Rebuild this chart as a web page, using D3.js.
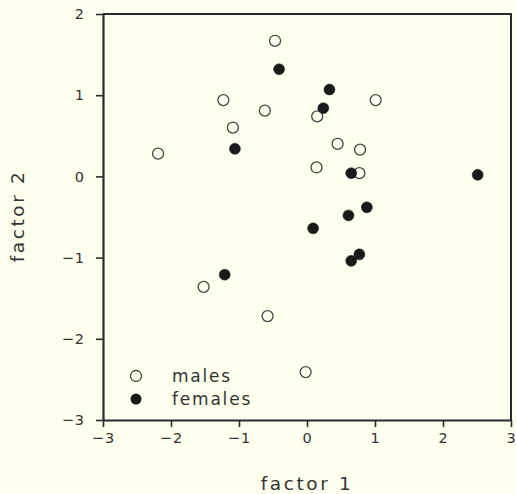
<!DOCTYPE html>
<html><head><meta charset="utf-8">
<script src="https://cdn.jsdelivr.net/npm/d3@7"></script>
<style>
html,body{margin:0;padding:0;background:#fffff0;}
svg{display:block;font-family:"DejaVu Sans",sans-serif;}
</style></head>
<body>
<script>
const xTicks = [-3, -2, -1, 0, 1, 2, 3];
const yTicks = [-3, -2, -1, 0, 1, 2];
const malesX = [-0.47, -1.23, -1.09, -2.19, -0.62, 0.15, 1.01, 0.45, 0.78, 0.14, 0.77, -1.52, -0.58, -0.02];
const malesY = [1.67, 0.94, 0.60, 0.28, 0.81, 0.74, 0.94, 0.40, 0.33, 0.11, 0.04, -1.36, -1.72, -2.41];
const femalesX = [-0.41, 0.33, 0.24, -1.06, 0.65, 2.51, 0.88, 0.61, 0.09, 0.77, 0.65, -1.21];
const femalesY = [1.32, 1.07, 0.84, 0.34, 0.04, 0.02, -0.38, -0.48, -0.64, -0.96, -1.04, -1.21];
const seriesNames = ["males", "females"];
const xTitle = "factor 1", yTitle = "factor 2";

const W = 516, H = 494;
const m = {left: 103, right: 5, top: 14, bottom: 74};
const svg = d3.select("body").append("svg").attr("width", W).attr("height", H);
svg.append("rect").attr("width", W).attr("height", H).attr("fill", "#fffff0");

const x = d3.scaleLinear().domain([-3, 3]).range([m.left, W - m.right]);
const y = d3.scaleLinear().domain([-3, 2]).range([H - m.bottom, m.top]);
const ink = "#2a2a2a";

// frame (top & right)
svg.append("path")
  .attr("d", `M${x(-3)},${y(2)}H${x(3)}V${y(-3)}`)
  .attr("fill", "none").attr("stroke", ink).attr("stroke-width", 2);

const gx = svg.append("g").attr("transform", `translate(0,${y(-3)})`)
  .call(d3.axisBottom(x).tickValues(xTicks).tickSize(7).tickPadding(6).tickSizeOuter(0)
    .tickFormat(d => d < 0 ? "\u2212" + Math.abs(d) : d));
const gy = svg.append("g").attr("transform", `translate(${x(-3)},0)`)
  .call(d3.axisLeft(y).tickValues(yTicks).tickSize(7).tickPadding(11).tickSizeOuter(0)
    .tickFormat(d => d < 0 ? "\u2212" + Math.abs(d) : d));
[gx, gy].forEach(g => {
  g.select(".domain").attr("stroke", ink).attr("stroke-width", 2.2);
  g.selectAll(".tick line").attr("stroke", ink).attr("stroke-width", 1.6);
  g.selectAll(".tick text").attr("fill", "#333").attr("font-size", 14.5)
    .attr("font-family", "DejaVu Sans, sans-serif").attr("letter-spacing", 1);
});

// titles
svg.append("text").attr("x", x(0)).attr("y", 490).attr("text-anchor", "middle")
  .attr("font-size", 18.5).attr("letter-spacing", 2.6).attr("fill", "#333").text(xTitle);
svg.append("text").attr("transform", `translate(24,${216}) rotate(-90)`).attr("text-anchor", "middle")
  .attr("font-size", 18.5).attr("letter-spacing", 2.6).attr("fill", "#333").text(yTitle);

// points
const males = malesX.map((v, i) => ({x: v, y: malesY[i]}));
const females = femalesX.map((v, i) => ({x: v, y: femalesY[i]}));
const r = 5.5;
svg.append("g").selectAll("circle").data(males).join("circle")
  .attr("cx", d => x(d.x)).attr("cy", d => y(d.y)).attr("r", r)
  .attr("fill", "none").attr("stroke", "#444").attr("stroke-width", 1.3);
svg.append("g").selectAll("circle").data(females).join("circle")
  .attr("cx", d => x(d.x)).attr("cy", d => y(d.y)).attr("r", r)
  .attr("fill", "#1a1a1a").attr("stroke", "#1a1a1a").attr("stroke-width", 0.5);

// legend
const lg = svg.append("g");
const lgY = [376, 399];
lg.append("circle").attr("cx", 136).attr("cy", lgY[0]).attr("r", r)
  .attr("fill", "none").attr("stroke", "#444").attr("stroke-width", 1.3);
lg.append("circle").attr("cx", 136).attr("cy", lgY[1]).attr("r", r).attr("fill", "#1a1a1a");
seriesNames.forEach((s, i) => {
  lg.append("text").attr("x", 172).attr("y", lgY[i] + 6).attr("font-size", 17)
    .attr("letter-spacing", 1.8).attr("fill", "#333").text(s);
});
</script>
</body></html>
